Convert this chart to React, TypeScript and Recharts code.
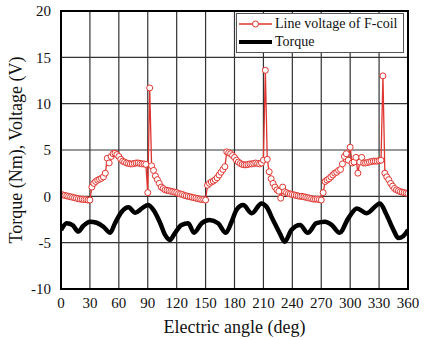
import { LineChart, Line, XAxis, YAxis, CartesianGrid } from "recharts";

// x positions of the F-coil voltage samples (deg)
const voltageAngles = [
  0, 2, 4, 6, 8, 10, 12, 14, 16, 18, 20, 22, 24, 26, 28, 30, 32, 34, 36, 38,
  40, 42, 44, 46, 48, 50, 52, 54, 56, 58, 60, 62, 64, 66, 68, 70, 72, 74, 76, 78,
  80, 82, 84, 86, 88, 90, 92, 94, 96, 98, 100, 102, 104, 106, 108, 110, 112, 114, 116, 118,
  120, 122, 124, 126, 128, 130, 132, 134, 136, 138, 140, 142, 144, 146, 148, 150, 152, 154, 156, 158,
  160, 162, 164, 166, 168, 170, 172, 174, 176, 178, 180, 182, 184, 186, 188, 190, 192, 194, 196, 198,
  200, 202, 204, 206, 208, 210, 212, 214, 216, 218, 220, 222, 224, 226, 228, 230, 232, 234, 236, 238,
  240, 242, 244, 246, 248, 250, 252, 254, 256, 258, 260, 262, 264, 266, 268, 270, 272, 274, 276, 278,
  280, 282, 284, 286, 288, 290, 292, 294, 296, 298, 300, 302, 304, 306, 308, 310, 312, 314, 316, 318,
  320, 322, 324, 326, 328, 330, 332, 334, 336, 338, 340, 342, 344, 346, 348, 350, 352, 354, 356, 358,
  360,
];

const voltage = [
  0.2, 0.15, 0.1, 0.05, 0.0, -0.05, -0.1, -0.15, -0.2, -0.25, -0.3, -0.3, -0.35, -0.35, -0.4, -0.4, 1.0, 1.4, 1.6, 1.75,
  1.85, 1.95, 2.1, 2.5, 4.1, 3.6, 4.3, 4.6, 4.65, 4.5, 4.3, 4.0, 3.8, 3.7, 3.6, 3.55, 3.5, 3.5, 3.55, 3.6,
  3.6, 3.55, 3.5, 3.5, 3.45, 0.4, 11.7, 3.3, 2.8, 2.2, 1.8, 1.4, 1.0, 0.85, 0.7, 0.65, 0.6, 0.55, 0.5, 0.45,
  0.4, 0.3, 0.25, 0.2, 0.1, 0.05, 0.0, -0.05, -0.1, -0.15, -0.2, -0.25, -0.3, -0.35, -0.35, -0.4, 1.2, 1.4, 1.55, 1.65,
  1.8, 2.0, 2.3, 2.6, 2.9, 3.2, 4.8, 4.7, 4.6, 4.4, 4.2, 3.9, 3.7, 3.55, 3.45, 3.4, 3.4, 3.45, 3.5, 3.5,
  3.55, 3.6, 3.55, 3.5, 3.6, 3.9, 13.6, 4.0, 2.65, 1.9, 1.4, 1.0, 0.7, 0.55, -0.2, 1.0, 0.5, 0.4, 0.3, 0.25,
  0.2, 0.15, 0.1, 0.05, 0.0, 0.0, -0.05, -0.1, -0.15, -0.2, -0.25, -0.3, -0.3, -0.3, -0.35, -0.4, 0.4, 1.6, 1.75, 1.9,
  2.1, 2.3, 2.5, 2.6, 2.8, 2.9, 3.5, 4.3, 4.6, 3.9, 5.3, 3.6, 3.7, 4.2, 2.5, 3.7, 4.2, 3.6, 3.6, 3.65,
  3.7, 3.75, 3.8, 3.8, 3.8, 3.85, 3.9, 13.0, 2.5, 2.1, 1.8, 1.4, 1.1, 0.85, 0.7, 0.6, 0.5, 0.45, 0.4, 0.35,
  0.3,
];

const torqueAngles = [
  0, 6, 12, 18, 23, 30, 37, 44, 51, 56, 63, 70, 77, 84, 90, 96, 103, 108, 113, 118,
  125, 132, 138, 146, 154, 163, 171, 177, 182, 189, 198, 208, 213, 220, 227, 232, 239, 248, 256, 265,
  274, 281, 289, 298, 307, 317, 331, 337, 345, 350, 355, 360,
];
const torque = [
  -3.64, -2.9, -3.1, -3.8, -3.2, -2.74, -2.85, -3.28, -3.93, -2.9, -1.66, -1.19, -1.77, -1.3, -0.94, -1.48, -2.9, -4.17, -4.7, -4.0,
  -3.1, -2.9, -3.93, -2.9, -2.56, -2.9, -3.93, -2.74, -1.48, -0.94, -1.83, -0.76, -1.1, -2.56, -4.0, -4.9, -3.64, -3.1, -3.93, -2.9,
  -2.74, -3.1, -3.93, -2.38, -1.3, -1.83, -0.76, -1.83, -3.64, -4.5, -4.3, -3.64,
];

const xTicks = [0, 30, 60, 90, 120, 150, 180, 210, 240, 270, 300, 330, 360];
const yTicks = [-10, -5, 0, 5, 10, 15, 20];

const voltageData = voltageAngles.map((angle, i) => ({ angle, v: voltage[i] }));
const torqueData = torqueAngles.map((angle, i) => ({ angle, t: torque[i] }));

const FONT = "Liberation Serif";
const RED = "#e0352f";

// plot box (chart margins + axis sizes)
const PLOT_X = 61;
const PLOT_Y = 11;
const PLOT_W = 347;
const PLOT_H = 278;

function XTick({ x, y, payload }: any) {
  return (
    <text x={x} y={y} dy="0.71em" textAnchor="middle" fill="#111" fontSize={15} fontFamily={FONT}>
      {payload.value}
    </text>
  );
}

function YTick({ x, y, payload }: any) {
  return (
    <text x={x} y={y} dy="0.355em" textAnchor="end" fill="#111" fontSize={15} fontFamily={FONT}>
      {payload.value}
    </text>
  );
}

function LegendBox() {
  return (
    <div
      style={{
        position: "absolute",
        left: 236,
        top: 13,
        background: "#fff",
        border: "1px solid #555",
        width: 166,
        fontFamily: FONT,
        fontSize: 14,
        color: "#111",
        padding: "1px 0 1px 0",
        lineHeight: "18px",
      }}
    >
      <div style={{ display: "flex", alignItems: "center" }}>
        <svg width={38} height={18}>
          <line x1={2} y1={9} x2={35} y2={9} stroke={RED} strokeWidth={1.3} />
          <circle cx={18.5} cy={9} r={3} fill="#fff" stroke={RED} strokeWidth={1} />
        </svg>
        <span>Line voltage of F-coil</span>
      </div>
      <div style={{ display: "flex", alignItems: "center" }}>
        <svg width={38} height={18}>
          <line x1={2} y1={9} x2={35} y2={9} stroke="#000" strokeWidth={4} />
        </svg>
        <span>Torque</span>
      </div>
    </div>
  );
}

export default function App() {
  return (
    <div style={{ position: "absolute", left: 0, top: 0, width: 425, height: 340, background: "#fff", fontFamily: FONT }}>
      <LineChart width={425} height={340} data={voltageData} margin={{ top: PLOT_Y, right: 425 - PLOT_X - PLOT_W, bottom: 0, left: 0 }}>
        <CartesianGrid stroke="#333" strokeWidth={1.2} horizontal vertical />
        <XAxis
          type="number"
          dataKey="angle"
          domain={[0, 360]}
          ticks={xTicks}
          interval={0}
          allowDataOverflow
          stroke="#000"
          strokeWidth={2}
          tickLine={false}
          tick={<XTick />}
          height={340 - PLOT_Y - PLOT_H}
          label={{
            value: "Electric angle (deg)",
            position: "insideBottom",
            offset: 7,
            style: { fill: "#111", fontSize: 18, fontFamily: FONT },
          }}
        />
        <YAxis
          type="number"
          domain={[-10, 20]}
          ticks={yTicks}
          interval={0}
          allowDataOverflow
          stroke="#000"
          strokeWidth={2}
          tickLine={false}
          tickMargin={4}
          tick={<YTick />}
          width={PLOT_X}
          label={{
            value: "Torque (Nm), Voltage (V)",
            angle: -90,
            position: "insideLeft",
            offset: 16,
            style: { fill: "#111", fontSize: 18, fontFamily: FONT, textAnchor: "middle" },
          }}
        />
        <Line
          dataKey="v"
          stroke={RED}
          strokeWidth={1.3}
          dot={{ r: 3, fill: "#fff", stroke: RED, strokeWidth: 1 }}
          isAnimationActive={false}
        />
        <Line
          data={torqueData}
          dataKey="t"
          type="monotone"
          stroke="#000"
          strokeWidth={4.5}
          dot={false}
          isAnimationActive={false}
        />
      </LineChart>
      {/* frame round the plot */}
      <div
        style={{
          position: "absolute",
          left: PLOT_X - 1,
          top: PLOT_Y - 1,
          width: PLOT_W + 2,
          height: PLOT_H + 2,
          boxSizing: "border-box",
          border: "2px solid #000",
          pointerEvents: "none",
        }}
      />
      <LegendBox />
    </div>
  );
}
